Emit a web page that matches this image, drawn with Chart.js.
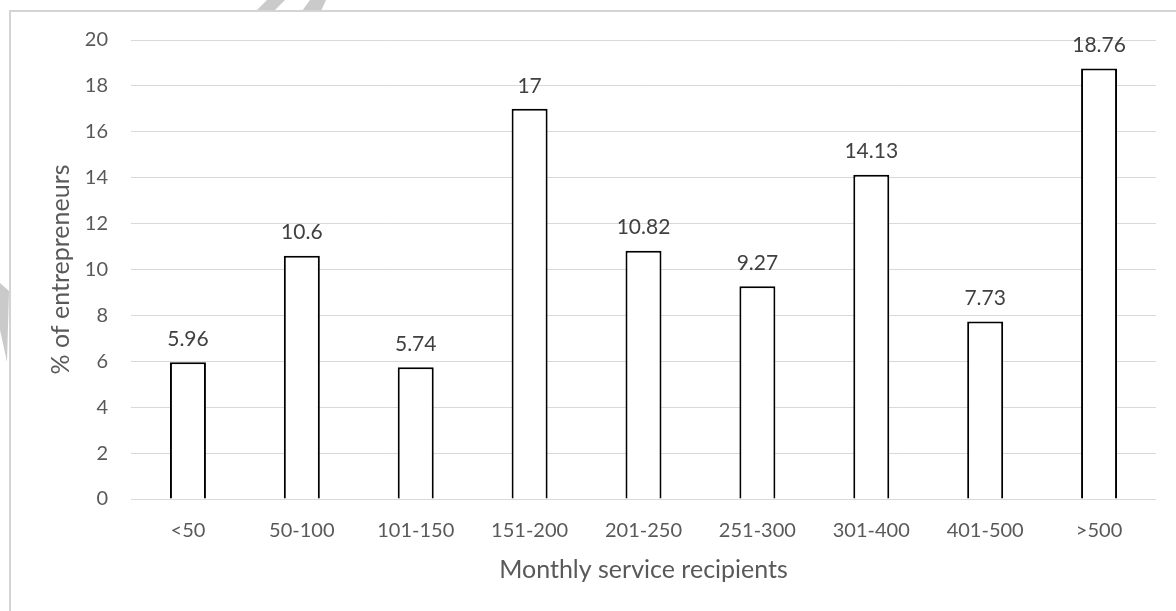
<!DOCTYPE html>
<html>
<head>
<meta charset="utf-8">
<script src="https://cdn.jsdelivr.net/npm/chart.js@4.4.1/dist/chart.umd.min.js"></script>
<style>
  html, body { margin: 0; padding: 0; background: #ffffff; }
  #wrap { width: 1176px; height: 611px; position: relative; }
</style>
</head>
<body>
<div id="wrap"><canvas id="c" width="1176" height="611"></canvas></div>
<script>
// Share of entrepreneurs by monthly number of service recipients
const categories = ['<50', '50-100', '101-150', '151-200', '201-250', '251-300', '301-400', '401-500', '>500'];
const percentages = [5.96, 10.6, 5.74, 17, 10.82, 9.27, 14.13, 7.73, 18.76];
const valueLabels = ['5.96', '10.6', '5.74', '17', '10.82', '9.27', '14.13', '7.73', '18.76'];
const yTicks = [0, 2, 4, 6, 8, 10, 12, 14, 16, 18, 20];

const FONT = 'Lato, "Open Sans", sans-serif';

// Light outer frame and the faint grey slashes in the corner
const decorations = {
  id: 'decorations',
  beforeDraw(chart) {
    const ctx = chart.ctx;
    ctx.save();
    ctx.fillStyle = '#ffffff';
    ctx.fillRect(0, 0, chart.width, chart.height);
    ctx.fillStyle = '#cacaca';
    ctx.beginPath();
    ctx.moveTo(256, 11); ctx.lineTo(274, 11); ctx.lineTo(285, 0); ctx.lineTo(267, 0);
    ctx.closePath(); ctx.fill();
    ctx.beginPath();
    ctx.moveTo(302, 11); ctx.lineTo(321, 11); ctx.lineTo(326, 0); ctx.lineTo(310, 0);
    ctx.closePath(); ctx.fill();
    ctx.beginPath();
    ctx.moveTo(0, 283); ctx.lineTo(9, 291); ctx.lineTo(7, 362); ctx.lineTo(0, 330);
    ctx.closePath(); ctx.fill();
    ctx.strokeStyle = '#d4d4d4';
    ctx.lineWidth = 2;
    ctx.beginPath();
    ctx.moveTo(10, chart.height + 2);
    ctx.lineTo(10, 11);
    ctx.lineTo(chart.width + 2, 11);
    ctx.stroke();
    ctx.restore();
  }
};

// Value written above each bar
const valueLabelPlugin = {
  id: 'valueLabels',
  afterDatasetsDraw(chart) {
    const ctx = chart.ctx;
    const meta = chart.getDatasetMeta(0);
    ctx.save();
    ctx.font = '21px ' + FONT;
    ctx.fillStyle = '#404040';
    ctx.textAlign = 'center';
    ctx.textBaseline = 'middle';
    meta.data.forEach((bar, i) => {
      ctx.fillText(valueLabels[i], bar.x, bar.y - 23);
    });
    ctx.restore();
  }
};

new Chart(document.getElementById('c'), {
  type: 'bar',
  data: {
    labels: categories,
    datasets: [{
      data: percentages,
      backgroundColor: '#ffffff',
      borderColor: '#000000',
      borderWidth: 2,
      borderSkipped: 'bottom',
      categoryPercentage: 1,
      barPercentage: 0.316
    }]
  },
  options: {
    responsive: false,
    devicePixelRatio: 1,
    animation: false,
    layout: { padding: { left: 0, right: 20, top: 40, bottom: 0 } },
    plugins: { legend: { display: false }, tooltip: { enabled: false } },
    scales: {
      x: {
        grid: { display: false },
        border: { display: false },
        ticks: { color: '#595959', font: { family: FONT, size: 20 }, padding: 12, maxRotation: 0 },
        title: {
          display: true,
          text: 'Monthly service recipients',
          color: '#595959',
          font: { family: FONT, size: 25 },
          padding: { top: 0, bottom: 26 }
        },
        afterFit(scale) { scale.height = 112; }
      },
      y: {
        min: 0,
        max: 20,
        afterBuildTicks(scale) { scale.ticks = yTicks.map(v => ({ value: v })); },
        grid: { color: '#d9d9d9', lineWidth: 1, drawTicks: false },
        border: { display: false },
        ticks: { color: '#595959', font: { family: FONT, size: 20 }, padding: 23 },
        title: {
          display: true,
          text: '% of entrepreneurs',
          color: '#595959',
          font: { family: FONT, size: 25 },
          padding: { top: 46, bottom: 0 }
        },
        afterFit(scale) { scale.width = 131; }
      }
    }
  },
  plugins: [decorations, valueLabelPlugin]
});
</script>
</body>
</html>
